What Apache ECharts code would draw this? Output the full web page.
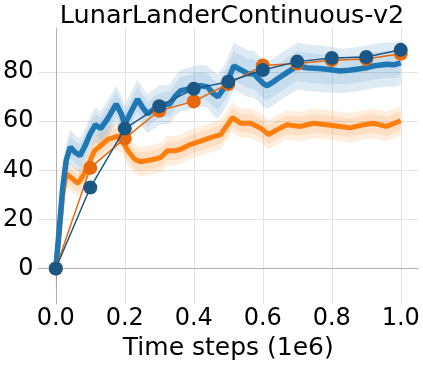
<!DOCTYPE html>
<html>
<head>
<meta charset="utf-8">
<script src="https://cdn.jsdelivr.net/npm/echarts@6/dist/echarts.min.js"></script>
<style>
  html, body { margin: 0; padding: 0; background: #fff; }
  #chart { width: 423px; height: 366px; }
</style>
</head>
<body>
<div id="chart"></div>
<script>
// noisy training curves (mean + two shaded spreads)
const blueX = [0, 0.01, 0.02, 0.03, 0.042, 0.055, 0.07, 0.085, 0.1, 0.115, 0.13, 0.15, 0.175, 0.19, 0.2, 0.215, 0.237, 0.25, 0.266, 0.285, 0.3, 0.33, 0.345, 0.362, 0.38, 0.4, 0.42, 0.44, 0.455, 0.47, 0.485, 0.5, 0.516, 0.536, 0.555, 0.575, 0.59, 0.603, 0.613, 0.63, 0.642, 0.67, 0.7, 0.728, 0.76, 0.786, 0.824, 0.85, 0.872, 0.9, 0.92, 0.959, 0.98, 1.0];
const blueMean = [0, 16, 33, 44, 49.5, 47.5, 46, 50, 55, 58.6, 57, 61, 67, 63, 58.6, 63, 69, 66, 63, 65, 66.5, 67, 70, 72.5, 73, 73.9, 74.5, 74, 71.5, 70, 73, 77, 82.5, 81, 79.5, 79.2, 77, 75.2, 74.5, 76, 77.2, 79.8, 82.5, 81.8, 81.5, 81.2, 80.5, 80.8, 81.2, 81.8, 82.5, 83.2, 83, 83.8];
const blueOuter = [11, 9, 8, 7, 7, 7, 7, 7, 7, 7, 7, 7.5, 7.5, 7.5, 8, 8, 8, 8, 8, 8, 8, 8, 8, 8.5, 8.5, 8.5, 8.5, 8.5, 9, 9, 9, 9.5, 9.5, 9.5, 9.5, 9.5, 9.5, 9.5, 9.5, 9.5, 9.5, 9.5, 9.5, 9.5, 9.5, 9.5, 9, 9, 9, 9, 9, 9, 9, 9];
const blueInner = [6, 5.5, 5, 4.5, 4.5, 4.5, 4.5, 4.5, 4.5, 4.5, 4.5, 5, 5, 5, 5, 5, 5, 5, 5, 5, 5, 5, 5, 5.5, 5.5, 5.5, 5.5, 5.5, 5.5, 5.5, 5.5, 6, 6, 6, 6, 6, 6, 6, 6, 6, 6, 6, 6, 6, 6, 6, 5.5, 5.5, 5.5, 5.5, 5.5, 5.5, 5.5, 5.5];

const orangeX = [0, 0.01, 0.02, 0.03, 0.045, 0.064, 0.08, 0.1, 0.112, 0.13, 0.151, 0.18, 0.19, 0.209, 0.228, 0.245, 0.266, 0.285, 0.305, 0.324, 0.345, 0.362, 0.391, 0.42, 0.449, 0.478, 0.495, 0.512, 0.536, 0.565, 0.593, 0.617, 0.642, 0.67, 0.709, 0.747, 0.786, 0.824, 0.853, 0.892, 0.92, 0.959, 1.0];
const orangeMean = [0, 14, 30, 38.6, 37, 34.7, 38, 44, 48, 50, 52.6, 53.9, 53, 48, 44.6, 43.5, 44, 44.5, 45.3, 48, 48, 48.6, 50.6, 51.9, 53.3, 54.6, 58, 61.5, 59.2, 59.2, 57.3, 54.6, 56.6, 58.6, 57.9, 59.2, 58.6, 57.9, 57.3, 58.6, 59.2, 57.9, 60.2];
const orangeOuter = [8, 7, 6, 5.5, 5.5, 5.5, 5.5, 5.5, 5.5, 5.5, 5.5, 5.5, 5.5, 6, 6, 6, 6, 6, 6, 6, 6, 6, 6, 6, 6, 6, 6, 6, 6, 6, 6, 6, 6, 6, 6, 6, 6, 6, 6, 6, 6, 6, 6];
const orangeInner = [4.5, 4, 3.5, 3.5, 3.5, 3.5, 3.5, 3.5, 3.5, 3.5, 3.5, 3.5, 3.5, 3.8, 3.8, 3.8, 3.8, 3.8, 3.8, 3.8, 3.8, 3.8, 3.8, 3.8, 3.8, 3.8, 3.8, 3.8, 3.8, 3.8, 3.8, 3.8, 3.8, 3.8, 3.8, 3.8, 3.8, 3.8, 3.8, 3.8, 3.8, 3.8, 3.8];

// evaluation points (markers joined by thin lines)
const evalX = [0, 0.1, 0.2, 0.3, 0.4, 0.5, 0.6, 0.7, 0.8, 0.9, 1.0];
const evalOrange = [0, 41, 53, 64.3, 68.1, 75.2, 82.7, 83.5, 84.9, 85.4, 87.5];
const evalBlue = [0, 33, 57, 66.1, 73.2, 76.1, 80.9, 84.3, 85.8, 86.2, 89.1];

const xTicks = [0, 0.2, 0.4, 0.6, 0.8, 1.0];
const yTicks = [0, 20, 40, 60, 80];

const FONT = 'DejaVu Sans';
const pairs = (xs, ys) => xs.map((x, i) => [x, ys[i]]);

// shaded band: one polygon through upper edge then lower edge, projected by the axes
function band(xs, mean, spread, color, opacity) {
  const data = xs.map((x, i) => [x, mean[i] - spread[i], mean[i] + spread[i]]);
  return {
    type: 'custom', silent: true, clip: true,
    encode: { x: 0, y: [1, 2] },
    data: data,
    renderItem: (params, api) => {
      if (params.dataIndex !== 0) return null;
      const upper = data.map(d => api.coord([d[0], d[2]]));
      const lower = data.map(d => api.coord([d[0], d[1]])).reverse();
      return {
        type: 'polygon',
        shape: { points: upper.concat(lower) },
        style: { fill: color, opacity: opacity }
      };
    }
  };
}

const chart = echarts.init(document.getElementById('chart'));
chart.setOption({
  animation: false,
  backgroundColor: '#fff',
  title: {
    text: 'LunarLanderContinuous-v2',
    left: 227, top: -2, textAlign: 'center',
    textStyle: { fontFamily: FONT, fontSize: 25.5, fontWeight: 'normal', color: '#000' }
  },
  grid: { left: 38, right: 5, top: 28, bottom: 56 },
  xAxis: {
    type: 'value', min: -0.05, max: 1.05,
    name: 'Time steps (1e6)', nameLocation: 'middle', nameGap: 27,
    nameTextStyle: { fontFamily: FONT, fontSize: 25, color: '#000' },
    axisLine: { show: true, lineStyle: { color: '#b0b0b0', width: 1 } },
    axisTick: { show: false, customValues: xTicks },
    axisLabel: {
      customValues: xTicks, margin: 3,
      fontFamily: FONT, fontSize: 24, color: '#000',
      formatter: v => v.toFixed(1)
    },
    splitLine: { show: true, lineStyle: { color: '#e3e3e3', width: 1 } }
  },
  yAxis: {
    type: 'value', min: -14.5, max: 98,
    axisLine: { show: true, lineStyle: { color: '#b0b0b0', width: 1 } },
    axisTick: { show: false, customValues: yTicks },
    axisLabel: {
      customValues: yTicks, margin: 5,
      fontFamily: FONT, fontSize: 24, color: '#000'
    },
    splitLine: { show: true, lineStyle: { color: '#e3e3e3', width: 1 } }
  },
  series: [
    band(orangeX, orangeMean, orangeOuter, '#ff7f0e', 0.14),
    band(orangeX, orangeMean, orangeInner, '#ff7f0e', 0.12),
    {
      type: 'line', symbol: 'none', silent: true,
      lineStyle: { color: '#ff7f0e', width: 5 },
      data: pairs(orangeX, orangeMean)
    },
    band(blueX, blueMean, blueOuter, '#1f77b4', 0.15),
    band(blueX, blueMean, blueInner, '#1f77b4', 0.12),
    {
      type: 'line', symbol: 'none', silent: true,
      lineStyle: { color: '#1f77b4', width: 5.5 },
      data: pairs(blueX, blueMean)
    },
    {
      type: 'line', symbol: 'circle', symbolSize: 14, z: 5,
      lineStyle: { color: '#e8690c', width: 1.5 },
      itemStyle: { color: '#e8690c' },
      data: pairs(evalX, evalOrange)
    },
    {
      type: 'line', symbol: 'circle', symbolSize: 14, z: 6,
      lineStyle: { color: '#1a5785', width: 1.5 },
      itemStyle: { color: '#1a5785' },
      data: pairs(evalX, evalBlue)
    }
  ]
});
</script>
</body>
</html>
